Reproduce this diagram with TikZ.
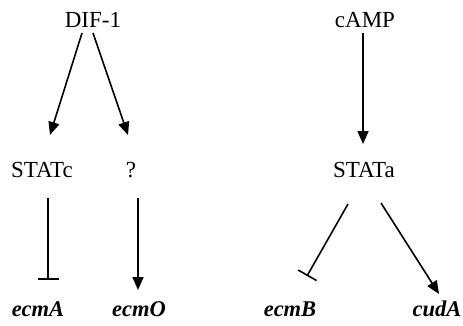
\documentclass[tikz,border=0pt]{standalone}
\usepackage{fontspec}
\setmainfont{Liberation Serif}
\usetikzlibrary{arrows.meta}
\begin{document}
\begin{tikzpicture}[x=1pt,y=-1pt,
  lbl/.style={anchor=base,inner sep=0pt,font=\fontsize{23}{27}\selectfont},
  gene/.style={lbl,font=\fontsize{22.5}{27}\selectfont\bfseries\itshape},
  act/.style={line width=1.6pt,-{Triangle[length=13pt,width=11pt]}},
  inh/.style={line width=1.6pt,-{Bar[width=21pt,line width=1.6pt]}}]
\useasboundingbox (0,0) rectangle (463,325);
\node[lbl] (dif) at (93,27) {DIF-1};
\node[lbl] (statc) at (42,177) {STATc};
\node[lbl] (q) at (131,177) {?};
\node[gene] (ecma) at (38,316) {ecmA};
\node[gene] (ecmo) at (139,316) {ecmO};
\node[lbl] (camp) at (365,27) {cAMP};
\node[lbl] (stata) at (364,177) {STATa};
\node[gene] (ecmb) at (290,316) {ecmB};
\node[gene] (cuda) at (437,316) {cudA};
\coordinate (d1) at (82,33);
\coordinate (d2) at (93,33);
\coordinate (c1) at (50,135);
\coordinate (q1) at (128,135);
\coordinate (s1) at (48,198);
\coordinate (a1) at (48,280);
\coordinate (q2) at (138,198);
\coordinate (o1) at (138,290);
\coordinate (m1) at (363,33);
\coordinate (t1) at (363,144);
\coordinate (s2) at (348,204);
\coordinate (b1) at (307,276);
\coordinate (s3) at (381,203);
\coordinate (u1) at (439,294);
\draw[act] (d1) -- (c1);
\draw[act] (d2) -- (q1);
\draw[inh] (s1) -- (a1);
\draw[act] (q2) -- (o1);
\draw[act] (m1) -- (t1);
\draw[inh] (s2) -- (b1);
\draw[act] (s3) -- (u1);
\end{tikzpicture}
\end{document}
